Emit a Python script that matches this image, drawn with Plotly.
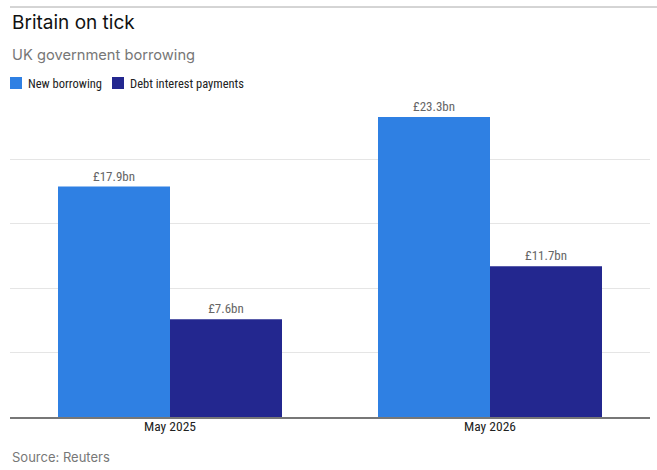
import plotly.graph_objects as go

categories = ["May 2025", "May 2026"]
new_borrowing = [17.9, 23.3]
debt_interest = [7.6, 11.7]
new_labels = ["£17.9bn", "£23.3bn"]
debt_labels = ["£7.6bn", "£11.7bn"]
series_names = ["New borrowing", "Debt interest payments"]
series_colors = ["#2F80E3", "#23278F"]

COND = "Liberation Sans Narrow, Roboto Condensed, Arial Narrow, sans-serif"
SANS = "Inter, Lato, Noto Sans, sans-serif"

W, H = 657, 470
ML, MR, MT, MB = 10, 7, 97, 53
PW, PH = W - ML - MR, H - MT - MB

fig = go.Figure()
for name, vals, labels, col in [(series_names[0], new_borrowing, new_labels, series_colors[0]),
                                (series_names[1], debt_interest, debt_labels, series_colors[1])]:
    fig.add_trace(go.Bar(x=categories, y=vals, name=name,
                         marker=dict(color=col, line=dict(width=0)),
                         text=labels, textposition="outside",
                         textfont=dict(family=COND, size=13, color="#666666"),
                         cliponaxis=False))

fig.update_layout(
    width=W, height=H,
    margin=dict(l=ML, r=MR, t=MT, b=MB, autoexpand=False),
    paper_bgcolor="white", plot_bgcolor="white",
    barmode="group", bargap=0.3, bargroupgap=0,
    showlegend=False,
    xaxis=dict(showgrid=False, showline=True, linecolor="#777777", linewidth=1.5,
               tickfont=dict(family=COND, size=13.5, color="#222222"), ticks="",
               ticklabelstandoff=-4),
    yaxis=dict(range=[0, 24.85], showgrid=True, gridcolor="#e5e5e5", gridwidth=1,
               dtick=5, showticklabels=False, zeroline=False),
    font=dict(family=SANS),
)


def xp(px):
    return (px - ML) / PW


def yp(py):
    return (H - MB - py) / PH


fig.add_annotation(text="Britain on tick", xref="paper", yref="paper", x=0, y=yp(22),
                   xanchor="left", yanchor="middle", showarrow=False,
                   font=dict(family=SANS, size=19, color="#111111"))
fig.add_annotation(text="UK government borrowing", xref="paper", yref="paper", x=0, y=yp(55),
                   xanchor="left", yanchor="middle", showarrow=False,
                   font=dict(family=SANS, size=14.7, color="#777777"))
fig.add_annotation(text="Source: Reuters", xref="paper", yref="paper", x=0, y=yp(457),
                   xanchor="left", yanchor="middle", showarrow=False,
                   font=dict(family=SANS, size=13, color="#777777"))
fig.add_shape(type="line", xref="paper", yref="paper", x0=0, x1=xp(657), y0=yp(7), y1=yp(7),
              line=dict(color="#aaaaaa", width=1))

# manual legend
legend_x = [10, 112]
for lx, name, col in zip(legend_x, series_names, series_colors):
    fig.add_shape(type="rect", xref="paper", yref="paper",
                  x0=xp(lx), x1=xp(lx + 12), y0=yp(89), y1=yp(77),
                  fillcolor=col, line=dict(width=0))
    fig.add_annotation(text=name, xref="paper", yref="paper", x=xp(lx + 16), y=yp(83),
                       xanchor="left", yanchor="middle", showarrow=False,
                       font=dict(family=COND, size=12.5, color="#222222"))

fig.write_html("out.html")
